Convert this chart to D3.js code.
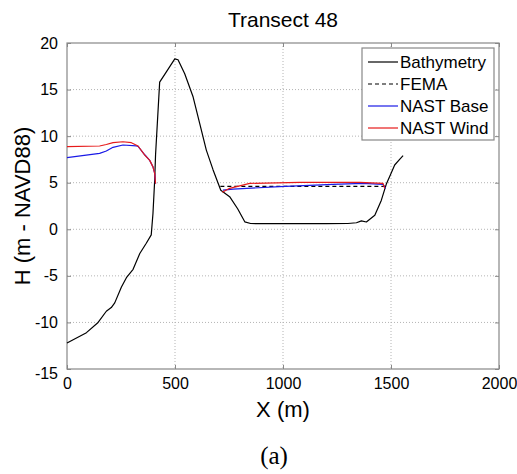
<!DOCTYPE html>
<html lang="en">
<head>
  <meta charset="UTF-8">
  <title>Transect 48</title>
  <style>
    body { margin: 0; background: #fff; }
    text { font-family: "Liberation Sans", Arial, sans-serif; fill: #000; }
    .grid line { stroke: #b4b4b4; stroke-width: 1px; stroke-dasharray: 1,2; }
    .series { fill: none; stroke-width: 1.2px; stroke-linejoin: round; }
  </style>
  <script src="https://cdn.jsdelivr.net/npm/d3@7"></script>
</head>
<body>
<div id="chart"></div>
<script>
// values (X in m, H in m NAVD88); null = gap
var bathyX = [0, 90, 144, 182, 205, 221, 252, 275, 306, 337, 367, 390, 398, 406, 410, 429, 460, 499, 514, 545, 584, 614, 645, 676, 712, 753, 790, 823, 850, 900, 1000, 1100, 1200, 1300, 1340, 1363, 1386, 1425, 1455, 1479, 1500, 1517, 1540, 1556];
var bathyH = [-12.2, -11.1, -10.0, -8.8, -8.4, -7.9, -6.2, -5.2, -4.3, -2.6, -1.5, -0.6, 1.7, 5.3, 8.0, 15.8, 16.9, 18.3, 18.2, 16.7, 14.2, 11.4, 8.5, 6.4, 4.2, 3.5, 2.2, 0.8, 0.62, 0.6, 0.6, 0.6, 0.6, 0.62, 0.7, 0.9, 0.78, 1.5, 3.1, 4.9, 6.0, 6.9, 7.5, 7.9];

var femaX = [710, 1478];
var femaH = [4.6, 4.6];

var baseX = [0, 151, 182, 213, 259, 321, 329, 360, 383, 398, 406, 410, null, 722, 769, 985, 1231, 1370, 1463, 1475];
var baseH = [7.7, 8.15, 8.4, 8.8, 9.05, 8.95, 8.9, 8.0, 7.4, 6.7, 6.0, 4.9, null, 4.2, 4.32, 4.57, 4.83, 4.93, 4.83, 4.4];

var windX = [0, 151, 182, 213, 259, 298, 329, 360, 383, 398, 406, 410, null, 719, 753, 846, 1077, 1355, 1463, 1471];
var windH = [8.87, 8.94, 9.1, 9.3, 9.4, 9.3, 8.94, 7.97, 7.4, 6.7, 6.0, 4.9, null, 3.97, 4.4, 4.93, 5.04, 5.04, 4.93, 4.4];

var xTicks = [0, 500, 1000, 1500, 2000];
var yTicks = [-15, -10, -5, 0, 5, 10, 15, 20];
var legendNames = ["Bathymetry", "FEMA", "NAST Base", "NAST Wind"];

var width = 517, height = 474;
var margin = {left: 67, right: 18, top: 43, bottom: 105};
var iw = width - margin.left - margin.right,
    ih = height - margin.top - margin.bottom;

var x = d3.scaleLinear().domain([0, 2000]).range([0, iw]);
var y = d3.scaleLinear().domain([-15, 20]).range([ih, 0]);

var svg = d3.select("#chart").append("svg")
    .attr("width", width)
    .attr("height", height);

var g = svg.append("g")
    .attr("transform", "translate(" + margin.left + "," + margin.top + ")");

// grid
g.append("g").attr("class", "grid")
  .selectAll("line").data(xTicks.slice(1, -1)).enter().append("line")
    .attr("x1", x).attr("x2", x).attr("y1", 0).attr("y2", ih);
g.append("g").attr("class", "grid")
  .selectAll("line").data(yTicks.slice(1, -1)).enter().append("line")
    .attr("y1", y).attr("y2", y).attr("x1", 0).attr("x2", iw);

// axes, matlab style ticks inside
var tickLen = 4;
var fmt = d => String(d);
g.append("g")
    .attr("transform", "translate(0," + ih + ")")
    .call(d3.axisBottom(x).tickValues(xTicks).tickFormat(fmt).tickSizeInner(-tickLen).tickSizeOuter(0).tickPadding(9))
    .call(ax => ax.selectAll("text").attr("font-size", 16).attr("dy", "0.71em"));
g.append("g")
    .call(d3.axisLeft(y).tickValues(yTicks).tickFormat(fmt).tickSizeInner(-tickLen).tickSizeOuter(0).tickPadding(9))
    .call(ax => ax.selectAll("text").attr("font-size", 16));
g.append("g")
    .call(d3.axisTop(x).tickValues(xTicks).tickSizeInner(-tickLen).tickSizeOuter(0).tickFormat(""));
g.append("g")
    .attr("transform", "translate(" + iw + ",0)")
    .call(d3.axisRight(y).tickValues(yTicks).tickSizeInner(-tickLen).tickSizeOuter(0).tickFormat(""));
g.selectAll(".domain").remove();
g.selectAll(".tick line").attr("stroke", "#888");
// -15 label sits a bit low like the reference
g.selectAll(".tick text").filter(d => d === -15).attr("dy", "0.6em");

g.append("rect")
    .attr("width", iw).attr("height", ih)
    .attr("fill", "none").attr("stroke", "#888").attr("stroke-width", 1.2);

// series
var line = d3.line()
    .defined(d => d[0] !== null)
    .x(d => x(d[0])).y(d => y(d[1]));

function pts(xs, hs) { return xs.map((v, i) => [v, hs[i]]); }

g.append("path").attr("class", "series")
    .attr("d", line(pts(bathyX, bathyH))).attr("stroke", "#000");
g.append("path").attr("class", "series")
    .attr("d", line(pts(femaX, femaH))).attr("stroke", "#000").attr("stroke-dasharray", "4,3");
g.append("path").attr("class", "series")
    .attr("d", line(pts(baseX, baseH))).attr("stroke", "#1a1ae6");
g.append("path").attr("class", "series")
    .attr("d", line(pts(windX, windH))).attr("stroke", "#e61a1a");

// legend
var styles = [
  {c: "#000", dash: null},
  {c: "#000", dash: "4,3"},
  {c: "#1a1ae6", dash: null},
  {c: "#e61a1a", dash: null}
];
var lg = svg.append("g").attr("transform", "translate(362,48)");
lg.append("rect").attr("width", 132).attr("height", 92)
    .attr("fill", "#fff").attr("stroke", "#888").attr("stroke-width", 1.2);
var item = lg.selectAll(".item").data(legendNames).enter().append("g")
    .attr("transform", (d, i) => "translate(0," + (14 + i * 22) + ")");
item.append("line")
    .attr("x1", 6).attr("x2", 36)
    .attr("stroke", (d, i) => styles[i].c)
    .attr("stroke-width", 1.2)
    .attr("stroke-dasharray", (d, i) => styles[i].dash);
item.append("text")
    .attr("x", 38).attr("dy", "0.36em")
    .attr("font-size", 17)
    .text(d => d);

// titles
svg.append("text")
    .attr("x", margin.left + iw / 2).attr("y", 27)
    .attr("text-anchor", "middle").attr("font-size", 21)
    .text("Transect 48");
svg.append("text")
    .attr("x", margin.left + iw / 2).attr("y", 417)
    .attr("text-anchor", "middle").attr("font-size", 22)
    .text("X (m)");
svg.append("text")
    .attr("transform", "translate(30," + (margin.top + ih / 2) + ") rotate(-90)")
    .attr("text-anchor", "middle").attr("font-size", 22)
    .text("H (m - NAVD88)");
svg.append("text")
    .attr("x", 274).attr("y", 464)
    .attr("text-anchor", "middle").attr("font-size", 25)
    .style("font-family", "'Liberation Serif', 'DejaVu Serif', serif")
    .text("(a)");
</script>
</body>
</html>
